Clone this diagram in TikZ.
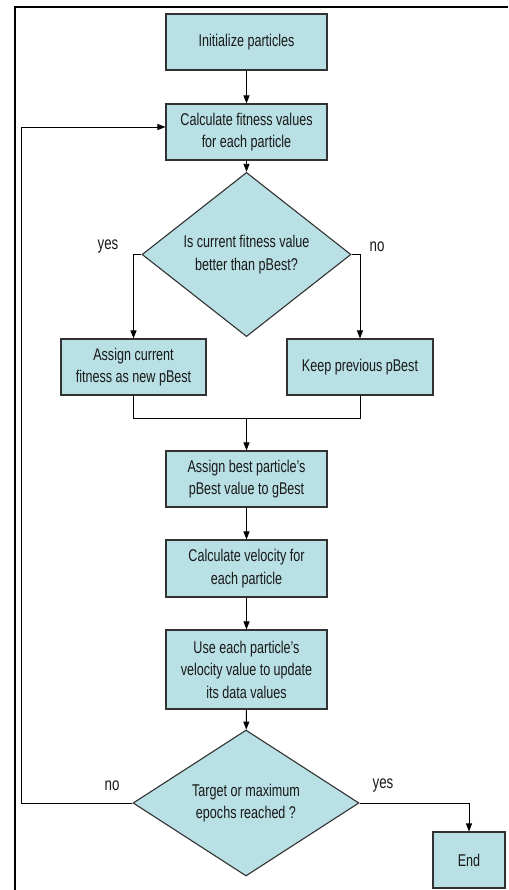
\documentclass[tikz,border=0pt]{standalone}
\usepackage{fontspec}
\setmainfont{Liberation Sans}[FakeStretch=0.74]
\usetikzlibrary{shapes.geometric,arrows.meta}
\definecolor{boxfill}{RGB}{185,224,228}
\definecolor{boxline}{RGB}{50,50,50}
\definecolor{txt}{RGB}{25,25,25}
\begin{document}
\begin{tikzpicture}[x=1pt,y=-1pt,
  stepbox/.style={draw=boxline,line width=1.1pt,fill=boxfill,rectangle,inner sep=0pt,
    align=center,text=txt,font=\fontsize{17}{22.5}\selectfont},
  decision/.style={draw=boxline,line width=1.1pt,fill=boxfill,diamond,inner sep=0pt,
    align=center,text=txt,font=\fontsize{17}{22.5}\selectfont},
  lbl/.style={font=\fontsize{18}{20}\selectfont,inner sep=0pt,text=txt},
  conn/.style={line width=0.9pt,-{Triangle[length=8pt,width=6pt]}},
  plain/.style={line width=0.9pt}]
\useasboundingbox (0,0) rectangle (508,890);
\fill[white] (0,0) rectangle (508,890);
% frame
\draw[line width=2.5pt] (15,890) -- (15,7) -- (508,7);

\node[stepbox,minimum width=161pt,minimum height=56pt] (b1) at (246.5,42) {Initialize particles};
\node[stepbox,minimum width=161pt,minimum height=56pt] (b2) at (246.5,132) {Calculate fitness values\\for each particle};
\node[decision,minimum width=209pt,minimum height=123pt] (d1) at (246.5,254.5) {Is current fitness value\\better than pBest?};
\node[stepbox,minimum width=145pt,minimum height=56pt] (b3) at (133.5,367) {Assign current\\fitness as new pBest};
\node[stepbox,minimum width=146pt,minimum height=56pt] (b4) at (360,367) {Keep previous pBest};
\node[stepbox,minimum width=161pt,minimum height=56pt] (b5) at (246.5,479) {Assign best particle's\\pBest value to gBest};
\node[stepbox,minimum width=161pt,minimum height=57pt] (b6) at (246.5,568.5) {Calculate velocity for\\each particle};
\node[stepbox,minimum width=161pt,minimum height=79pt] (b7) at (246.5,669.5) {Use each particle's\\velocity value to update\\its data values};
\node[decision,minimum width=226pt,minimum height=122pt] (d2) at (246,803) {Target or maximum\\epochs reached ?};
\node[stepbox,minimum width=72pt,minimum height=56pt] (e) at (469,860) {End};

\node[lbl] (yes1) at (108,247) {yes};
\node[lbl] (no1) at (377,247) {no};
\node[lbl] (no2) at (112,786) {no};
\node[lbl] (yes2) at (383,786) {yes};

\coordinate (m) at (246.5,418);
\coordinate (loopx) at (21,127);

\draw[conn] (b1) -- (b2);
\draw[conn] (b2) -- (d1);
\draw[conn] (d1.west) -| (b3.north);
\draw[conn] (d1.east) -| (b4.north);
\draw[plain] (b3.south) |- (m);
\draw[plain] (b4.south) |- (m);
\draw[conn] (m) -- (b5);
\draw[conn] (b5) -- (b6);
\draw[conn] (b6) -- (b7);
\draw[conn] (b7) -- (d2);
\draw[conn] (d2.west) -| (loopx) -- (b2.west |- loopx);
\draw[conn] (d2.east) -| (e.north);
\end{tikzpicture}
\end{document}
